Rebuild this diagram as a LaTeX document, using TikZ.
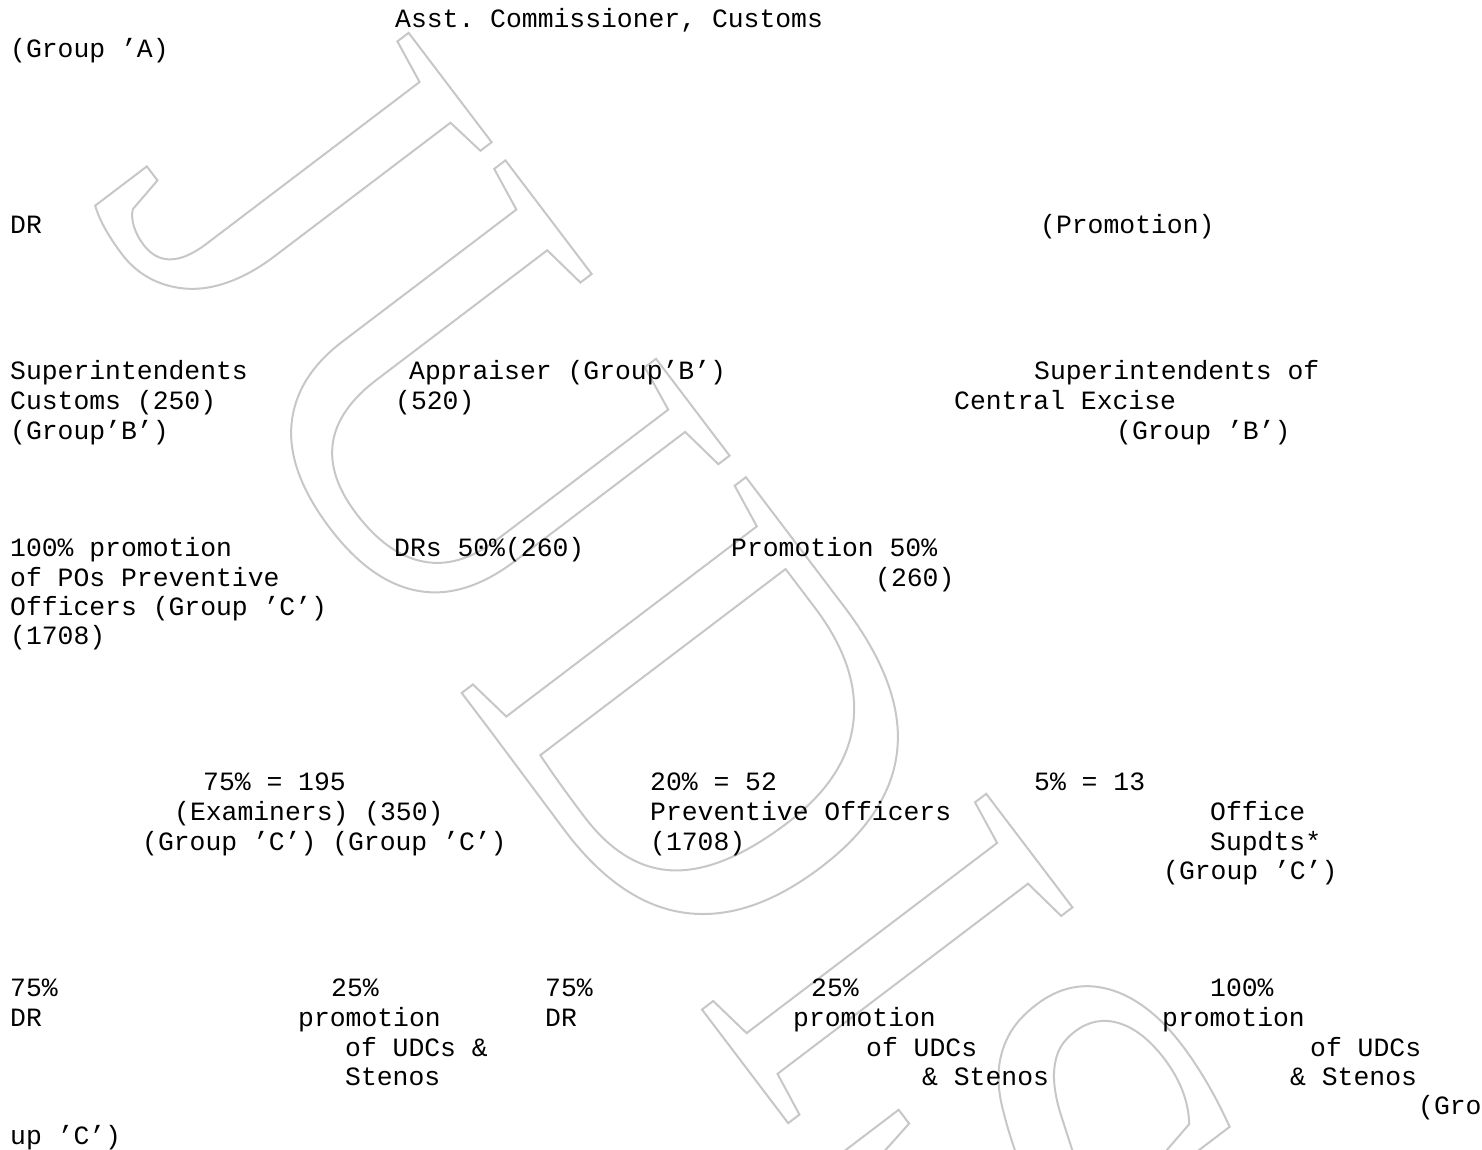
\documentclass[tikz,border=0pt]{standalone}
\usepackage{fontspec}
\setmonofont{Liberation Mono}
\newfontfamily\wmfont{Liberation Serif}
% outlined watermark letters (stroke only)
\newcommand\outlined[1]{\special{pdf:literal direct 1 Tr 2 w 0.78 0.78 0.78 RG}#1\special{pdf:literal direct 0 Tr}}

\begin{document}
\begin{tikzpicture}[
  x=1pt, y=-1pt,
  txt/.style={anchor=base west, inner sep=0pt, font=\ttfamily\fontsize{26.4}{30}\selectfont},
  wm/.style={anchor=base west, inner sep=0pt, font=\wmfont\fontsize{545}{545}\selectfont},
]
\useasboundingbox (0,0) rectangle (1482,1150);

% watermark
\node[wm, rotate=-52.8] (judis) at (86,198) {\outlined{JUDIS}};

% top
\node[txt] (asst) at (395,28) {Asst. Commissioner, Customs};
\node[txt] (grpA) at (10,58) {(Group ’A)};
\node[txt] (dr) at (10,234) {DR};
\node[txt] (promo) at (1040,234) {(Promotion)};

% group B
\node[txt] (supc1) at (10,379) {Superintendents};
\node[txt] (supc2) at (10,409) {Customs (250)};
\node[txt] (supc3) at (10,439) {(Group’B’)};
\node[txt] (appr1) at (409,379) {Appraiser (Group’B’)};
\node[txt] (appr2) at (395,409) {(520)};
\node[txt] (supe1) at (1034,379) {Superintendents of};
\node[txt] (supe2) at (954,409) {Central Excise};
\node[txt] (supe3) at (1116,439) {(Group ’B’)};

% feeders of group B
\node[txt] (po1) at (10,556) {100\% promotion};
\node[txt] (po2) at (10,586) {of POs Preventive};
\node[txt] (po3) at (10,615) {Officers (Group ’C’)};
\node[txt] (po4) at (10,644) {(1708)};
\node[txt] (drs) at (394,556) {DRs 50\%(260)};
\node[txt] (pr1) at (731,556) {Promotion 50\%};
\node[txt] (pr2) at (875,586) {(260)};

% group C
\node[txt] (ex1) at (203,790) {75\% = 195};
\node[txt] (ex2) at (174,820) {(Examiners) (350)};
\node[txt] (ex3) at (142,850) {(Group ’C’) (Group ’C’)};
\node[txt] (pv1) at (650,790) {20\% = 52};
\node[txt] (pv2) at (650,820) {Preventive Officers};
\node[txt] (pv3) at (650,850) {(1708)};
\node[txt] (os0) at (1034,790) {5\% = 13};
\node[txt] (os1) at (1210,820) {Office};
\node[txt] (os2) at (1210,850) {Supdts*};
\node[txt] (os3) at (1163,879) {(Group ’C’)};

% feeders of group C
\node[txt] (a1) at (10,996) {75\%};
\node[txt] (a2) at (10,1026) {DR};
\node[txt] (b1) at (331,996) {25\%};
\node[txt] (b2) at (298,1026) {promotion};
\node[txt] (b3) at (345,1056) {of UDCs \&};
\node[txt] (b4) at (345,1085) {Stenos};
\node[txt] (c1) at (545,996) {75\%};
\node[txt] (c2) at (545,1026) {DR};
\node[txt] (d1) at (811,996) {25\%};
\node[txt] (d2) at (793,1026) {promotion};
\node[txt] (d3) at (866,1056) {of UDCs};
\node[txt] (d4) at (922,1085) {\& Stenos};
\node[txt] (e1) at (1210,996) {100\%};
\node[txt] (e2) at (1162,1026) {promotion};
\node[txt] (e3) at (1310,1056) {of UDCs};
\node[txt] (e4) at (1290,1085) {\& Stenos};
\node[txt] (e5) at (1418,1114) {(Gro};
\node[txt] (e6) at (10,1144) {up ’C’)};
\end{tikzpicture}
\end{document}
